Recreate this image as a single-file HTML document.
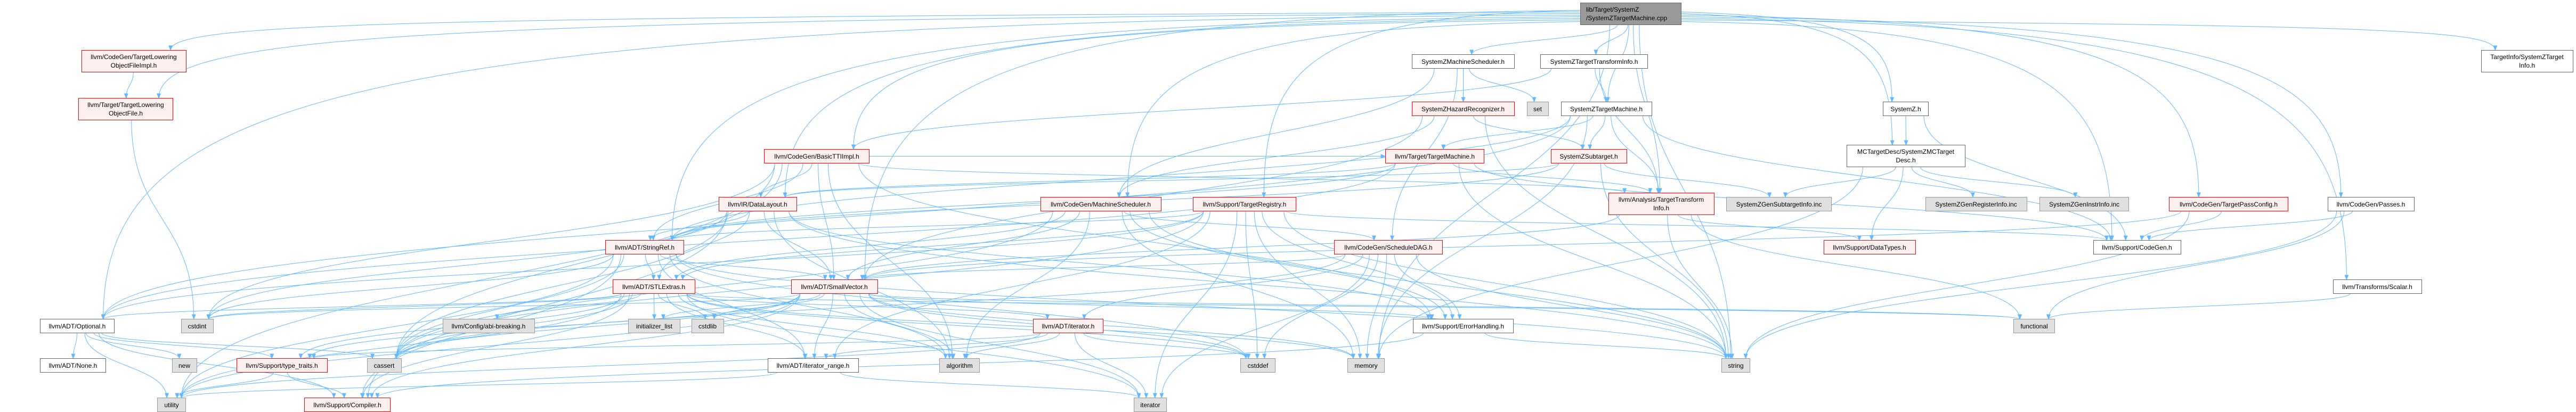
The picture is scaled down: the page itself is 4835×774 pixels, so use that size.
<!DOCTYPE html>
<html><head><meta charset="utf-8">
<style>
html,body{margin:0;padding:0;background:#fff;}
svg{display:block;}
text{font-family:"Liberation Sans",sans-serif;font-size:12px;fill:#000;}
.w{fill:#fff;stroke:#666;}
.r{fill:#fff0f0;stroke:#f00;}
.g{fill:#e0e0e0;stroke:#999;}
.root{fill:#999;stroke:#666;}
</style></head>
<body>
<svg id="s" width="4835" height="774" viewBox="0 0 4835 774" xmlns="http://www.w3.org/2000/svg">
<defs><marker id="a" markerWidth="10" markerHeight="8" refX="9" refY="4" orient="auto" markerUnits="userSpaceOnUse"><path d="M0,0 L10,4 L0,8 z" fill="#63b8ff"/></marker></defs>
<g id="edges" fill="none" stroke="#63b8ff" stroke-width="1"></g>
<g id="nodes">
<g id="R"><rect class="root" x="2966.5" y="5.5" width="189" height="41"/><text x="2977" y="22">lib/Target/SystemZ</text><text x="2977" y="38">/SystemZTargetMachine.cpp</text></g>
<g id="tlofi"><rect class="r" x="153.5" y="94.5" width="196" height="41"/><text x="251" y="111" text-anchor="middle">llvm/CodeGen/TargetLowering</text><text x="251" y="127" text-anchor="middle">ObjectFileImpl.h</text></g>
<g id="tlof"><rect class="r" x="147.5" y="184.5" width="177" height="41"/><text x="236" y="201" text-anchor="middle">llvm/Target/TargetLowering</text><text x="236" y="217" text-anchor="middle">ObjectFile.h</text></g>
<g id="opt"><rect class="w" x="75.5" y="599.5" width="139" height="26"/><text x="145" y="617" text-anchor="middle">llvm/ADT/Optional.h</text></g>
<g id="cstdint"><rect class="g" x="340.5" y="599.5" width="60" height="26"/><text x="370" y="617" text-anchor="middle">cstdint</text></g>
<g id="abi"><rect class="g" x="831.5" y="599.5" width="172" height="26"/><text x="917" y="617" text-anchor="middle">llvm/Config/abi-breaking.h</text></g>
<g id="none"><rect class="w" x="75.5" y="673.5" width="123" height="26"/><text x="137" y="691" text-anchor="middle">llvm/ADT/None.h</text></g>
<g id="new"><rect class="g" x="323.5" y="673.5" width="46" height="26"/><text x="346" y="691" text-anchor="middle">new</text></g>
<g id="tt"><rect class="r" x="444.5" y="673.5" width="170" height="26"/><text x="529" y="691" text-anchor="middle">llvm/Support/type_traits.h</text></g>
<g id="cassert"><rect class="g" x="689.5" y="673.5" width="64" height="26"/><text x="721" y="691" text-anchor="middle">cassert</text></g>
<g id="utility"><rect class="g" x="295.5" y="747.5" width="53" height="26"/><text x="322" y="765" text-anchor="middle">utility</text></g>
<g id="comp"><rect class="r" x="571.5" y="747.5" width="161" height="26"/><text x="652" y="765" text-anchor="middle">llvm/Support/Compiler.h</text></g>
<g id="btti"><rect class="r" x="1434.5" y="280.5" width="197" height="26"/><text x="1533" y="298" text-anchor="middle">llvm/CodeGen/BasicTTIImpl.h</text></g>
<g id="dl"><rect class="r" x="1349.5" y="370.5" width="146" height="26"/><text x="1422" y="388" text-anchor="middle">llvm/IR/DataLayout.h</text></g>
<g id="ms"><rect class="r" x="1953.5" y="370.5" width="226" height="26"/><text x="2066" y="388" text-anchor="middle">llvm/CodeGen/MachineScheduler.h</text></g>
<g id="sr"><rect class="r" x="1136.5" y="451.5" width="147" height="26"/><text x="1210" y="469" text-anchor="middle">llvm/ADT/StringRef.h</text></g>
<g id="stl"><rect class="r" x="1150.5" y="525.5" width="154" height="26"/><text x="1227" y="543" text-anchor="middle">llvm/ADT/STLExtras.h</text></g>
<g id="sv"><rect class="r" x="1485.5" y="525.5" width="162" height="26"/><text x="1566" y="543" text-anchor="middle">llvm/ADT/SmallVector.h</text></g>
<g id="il"><rect class="g" x="1179.5" y="599.5" width="97" height="26"/><text x="1228" y="617" text-anchor="middle">initializer_list</text></g>
<g id="cstdlib"><rect class="g" x="1298.5" y="599.5" width="60" height="26"/><text x="1328" y="617" text-anchor="middle">cstdlib</text></g>
<g id="ith"><rect class="r" x="1939.5" y="599.5" width="131" height="26"/><text x="2005" y="617" text-anchor="middle">llvm/ADT/iterator.h</text></g>
<g id="itr"><rect class="w" x="1441.5" y="673.5" width="170" height="26"/><text x="1526" y="691" text-anchor="middle">llvm/ADT/iterator_range.h</text></g>
<g id="alg"><rect class="g" x="1763.5" y="673.5" width="75" height="26"/><text x="1801" y="691" text-anchor="middle">algorithm</text></g>
<g id="szms"><rect class="w" x="2650.5" y="102.5" width="192" height="26"/><text x="2746" y="120" text-anchor="middle">SystemZMachineScheduler.h</text></g>
<g id="szttii"><rect class="w" x="2891.5" y="102.5" width="201" height="26"/><text x="2992" y="120" text-anchor="middle">SystemZTargetTransformInfo.h</text></g>
<g id="szhr"><rect class="r" x="2650.5" y="191.5" width="192" height="26"/><text x="2746" y="209" text-anchor="middle">SystemZHazardRecognizer.h</text></g>
<g id="set"><rect class="g" x="2866.5" y="191.5" width="40" height="26"/><text x="2886" y="209" text-anchor="middle">set</text></g>
<g id="sztm"><rect class="w" x="2930.5" y="191.5" width="170" height="26"/><text x="3015" y="209" text-anchor="middle">SystemZTargetMachine.h</text></g>
<g id="tm"><rect class="r" x="2600.5" y="280.5" width="185" height="26"/><text x="2693" y="298" text-anchor="middle">llvm/Target/TargetMachine.h</text></g>
<g id="szst"><rect class="r" x="2911.5" y="280.5" width="142" height="26"/><text x="2982" y="298" text-anchor="middle">SystemZSubtarget.h</text></g>
<g id="treg"><rect class="r" x="2239.5" y="370.5" width="193" height="26"/><text x="2336" y="388" text-anchor="middle">llvm/Support/TargetRegistry.h</text></g>
<g id="sdag"><rect class="r" x="2504.5" y="451.5" width="203" height="26"/><text x="2606" y="469" text-anchor="middle">llvm/CodeGen/ScheduleDAG.h</text></g>
<g id="eh"><rect class="w" x="2652.5" y="599.5" width="188" height="26"/><text x="2746" y="617" text-anchor="middle">llvm/Support/ErrorHandling.h</text></g>
<g id="cstddef"><rect class="g" x="2328.5" y="673.5" width="65" height="26"/><text x="2361" y="691" text-anchor="middle">cstddef</text></g>
<g id="memory"><rect class="g" x="2529.5" y="673.5" width="69" height="26"/><text x="2564" y="691" text-anchor="middle">memory</text></g>
<g id="iter"><rect class="g" x="2128.5" y="747.5" width="61" height="26"/><text x="2159" y="765" text-anchor="middle">iterator</text></g>
<g id="sz"><rect class="w" x="3534.5" y="191.5" width="85" height="26"/><text x="3577" y="209" text-anchor="middle">SystemZ.h</text></g>
<g id="mctd"><rect class="w" x="3466.5" y="272.5" width="222" height="41"/><text x="3577" y="289" text-anchor="middle">MCTargetDesc/SystemZMCTarget</text><text x="3577" y="305" text-anchor="middle">Desc.h</text></g>
<g id="atti"><rect class="r" x="3019.5" y="362.5" width="198" height="41"/><text x="3118" y="379" text-anchor="middle">llvm/Analysis/TargetTransform</text><text x="3118" y="395" text-anchor="middle">Info.h</text></g>
<g id="gsub"><rect class="g" x="3240.5" y="370.5" width="197" height="26"/><text x="3339" y="388" text-anchor="middle">SystemZGenSubtargetInfo.inc</text></g>
<g id="greg"><rect class="g" x="3614.5" y="370.5" width="190" height="26"/><text x="3709" y="388" text-anchor="middle">SystemZGenRegisterInfo.inc</text></g>
<g id="ginst"><rect class="g" x="3828.5" y="370.5" width="167" height="26"/><text x="3912" y="388" text-anchor="middle">SystemZGenInstrInfo.inc</text></g>
<g id="dt"><rect class="r" x="3423.5" y="451.5" width="172" height="26"/><text x="3509" y="469" text-anchor="middle">llvm/Support/DataTypes.h</text></g>
<g id="cg"><rect class="w" x="3929.5" y="451.5" width="164" height="26"/><text x="4011" y="469" text-anchor="middle">llvm/Support/CodeGen.h</text></g>
<g id="func"><rect class="g" x="3779.5" y="599.5" width="77" height="26"/><text x="3818" y="617" text-anchor="middle">functional</text></g>
<g id="string"><rect class="g" x="3231.5" y="673.5" width="53" height="26"/><text x="3258" y="691" text-anchor="middle">string</text></g>
<g id="ti"><rect class="w" x="4657.5" y="94.5" width="172" height="41"/><text x="4743" y="111" text-anchor="middle">TargetInfo/SystemZTarget</text><text x="4743" y="127" text-anchor="middle">Info.h</text></g>
<g id="tpc"><rect class="r" x="4071.5" y="370.5" width="223" height="26"/><text x="4183" y="388" text-anchor="middle">llvm/CodeGen/TargetPassConfig.h</text></g>
<g id="passes"><rect class="w" x="4369.5" y="370.5" width="162" height="26"/><text x="4450" y="388" text-anchor="middle">llvm/CodeGen/Passes.h</text></g>
<g id="scalar"><rect class="w" x="4379.5" y="525.5" width="166" height="26"/><text x="4462" y="543" text-anchor="middle">llvm/Transforms/Scalar.h</text></g>
</g>
</svg>
<script>
var E="R>tlofi R>tlof R>opt R>sr R>dl R>btti R>ms R>treg R>szms R>szttii R>sztm R>sz R>mctd R>atti R>tpc R>passes R>scalar R>ti R>cg R>string R>sv R>memory "+
"tlofi>tlof tlof>cstdint opt>none opt>new opt>tt opt>cassert opt>utility opt>comp tt>utility tt>comp "+
"btti>dl btti>sv btti>alg btti>sr btti>atti btti>tm btti>cassert btti>cstdint btti>eh btti>utility "+
"dl>sr dl>stl dl>sv dl>eh dl>cassert dl>cstdint dl>string dl>alg dl>comp "+
"sr>stl sr>itr sr>cstddef sr>string sr>utility sr>comp sr>cassert sr>alg sr>cstdint sr>sv "+
"stl>il stl>cstdlib stl>cstdint stl>ith stl>itr stl>alg stl>cassert stl>utility stl>abi stl>func stl>memory stl>cstddef stl>iter stl>comp stl>tt stl>opt "+
"sv>alg sv>cstdlib sv>il sv>itr sv>cassert sv>cstddef sv>memory sv>iter sv>utility sv>comp sv>tt sv>eh sv>func sv>cstdint "+
"ith>itr ith>alg ith>cstddef ith>iter ith>tt ith>utility itr>utility itr>iter eh>comp eh>string "+
"szms>szhr szms>set szms>ms szms>sdag szttii>sztm szttii>atti szttii>btti "+
"sztm>szst sztm>tm sztm>atti sztm>cg sztm>opt sztm>sr sztm>memory "+
"szhr>szst szhr>ms szhr>sv szhr>string tm>atti tm>dl tm>cg tm>sr tm>string tm>opt "+
"szst>gsub szst>dl szst>sr szst>string sz>mctd sz>cg mctd>gsub mctd>greg mctd>ginst mctd>dt mctd>memory "+
"atti>dt atti>func atti>string atti>sv tpc>cg tpc>string tpc>sv passes>cg passes>func passes>string scalar>func "+
"treg>sr treg>stl treg>itr treg>eh treg>cassert treg>cstddef treg>iter treg>memory treg>string treg>opt treg>cg "+
"ms>sv ms>sdag ms>eh ms>memory ms>alg ms>cassert ms>stl ms>string "+
"sdag>sv sdag>ith sdag>eh sdag>cassert sdag>cstddef sdag>iter sdag>string sdag>memory";
function B(id){var r=document.querySelector('#'+id+' rect');var x=+r.getAttribute('x'),y=+r.getAttribute('y'),w=+r.getAttribute('width'),h=+r.getAttribute('height');return {x:x,y:y,w:w,h:h,cx:x+w/2};}
var g=document.getElementById('edges'),out='',ri=0;
E.trim().split(/\s+/).forEach(function(e){var p=e.split('>'),s=B(p[0]),t=B(p[1]);
var sx=s.cx+Math.max(-s.w*0.4,Math.min(s.w*0.4,(t.cx-s.cx)*0.08));var sy=s.y+s.h;
var tx=t.cx+Math.max(-t.w*0.35,Math.min(t.w*0.35,(s.cx-t.cx)*0.05));var ty=t.y;
var d;
if(p[0]=='R'&&Math.abs(t.cx-s.cx)>500){ri++;var left=t.cx<s.cx;sx=left?s.x:s.x+s.w;sy=s.y+14+(ri%8)*3;
var mx=tx+(sx-tx)*0.15;d='M'+sx+','+sy+' C'+mx+','+(sy+10)+' '+tx+','+(sy+(ty-sy)*0.3)+' '+tx+','+ty;}
else if(ty>sy+5){var m=(ty-sy)*0.5;d='M'+sx+','+sy+' C'+sx+','+(sy+m)+' '+tx+','+(ty-m)+' '+tx+','+ty;}
else{var ex=t.cx>s.cx?t.x:t.x+t.w;var ey=t.y+t.h/2;sy=s.y+s.h/2;sx=t.cx>s.cx?s.x+s.w:s.x;d='M'+sx+','+sy+' C'+(sx+ex)/2+','+sy+' '+(sx+ex)/2+','+ey+' '+ex+','+ey;}
out+='<path d="'+d+'" marker-end="url(#a)"/>';});
g.innerHTML=out;
</script>
</body></html>
